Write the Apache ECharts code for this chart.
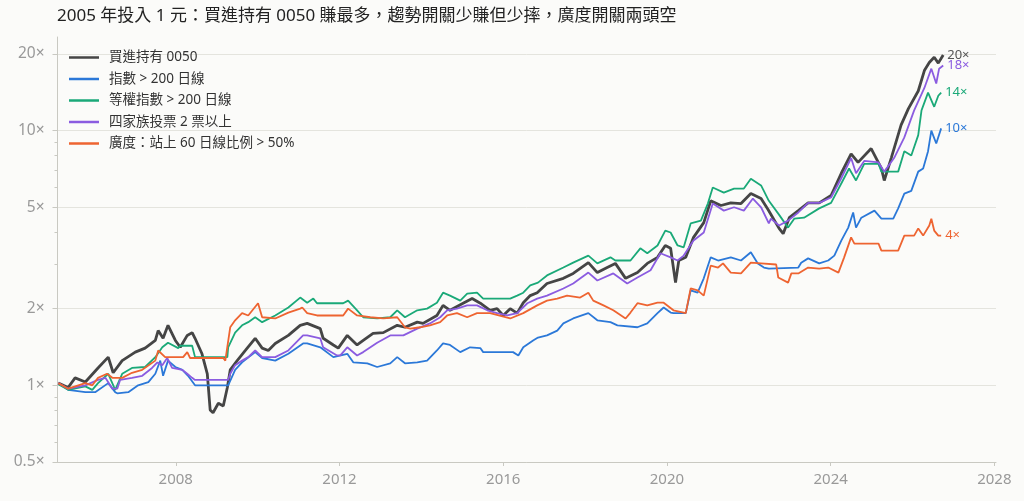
<!DOCTYPE html>
<html lang="zh-Hant">
<head>
<meta charset="utf-8">
<title>2005 年投入 1 元</title>
<script src="https://cdn.jsdelivr.net/npm/echarts@6/dist/echarts.min.js"></script>
<style>
  html, body { margin: 0; padding: 0; background: #fbfbf9; }
  #chart { width: 1024px; height: 501px; }
</style>
</head>
<body>
<div id="chart"></div>
<script>
// 每條線：[年份(小數), 累積倍數]，從圖上讀出的估計值
const hold0050 = [
  [2005.13,1.02],[2005.37,0.98],[2005.54,1.07],[2005.79,1.03],[2006.10,1.17],[2006.35,1.29],[2006.47,1.12],
  [2006.69,1.25],[2007.01,1.35],[2007.25,1.40],[2007.50,1.50],[2007.57,1.64],[2007.69,1.53],[2007.81,1.72],
  [2007.99,1.50],[2008.11,1.41],[2008.28,1.57],[2008.40,1.61],[2008.47,1.53],[2008.64,1.33],[2008.77,1.11],
  [2008.84,0.80],[2008.91,0.78],[2009.04,0.85],[2009.16,0.83],[2009.26,0.98],[2009.33,1.15],[2009.50,1.25],
  [2009.70,1.37],[2009.94,1.53],[2010.11,1.40],[2010.26,1.37],[2010.43,1.46],[2010.75,1.57],[2011.04,1.72],
  [2011.21,1.75],[2011.53,1.67],[2011.60,1.53],[2011.85,1.44],[2011.97,1.40],[2012.19,1.57],[2012.43,1.44],
  [2012.58,1.50],[2012.82,1.60],[2013.07,1.61],[2013.41,1.72],[2013.60,1.69],[2013.90,1.77],[2014.04,1.75],
  [2014.38,1.88],[2014.53,2.06],[2014.70,1.97],[2015.02,2.10],[2015.24,2.19],[2015.44,2.10],[2015.68,1.97],
  [2015.85,2.00],[2016.00,1.88],[2016.17,2.00],[2016.34,1.92],[2016.49,2.11],[2016.66,2.25],[2016.83,2.31],
  [2017.07,2.51],[2017.47,2.63],[2017.71,2.75],[2018.08,3.03],[2018.30,2.77],[2018.54,2.90],[2018.74,3.01],
  [2018.99,2.63],[2019.28,2.77],[2019.52,3.01],[2019.77,3.18],[2019.96,3.54],[2020.09,3.45],[2020.21,2.53],
  [2020.29,3.09],[2020.46,3.18],[2020.65,3.81],[2020.90,4.35],[2021.07,5.30],[2021.32,5.08],[2021.56,5.20],
  [2021.81,5.17],[2022.05,5.66],[2022.30,5.41],[2022.47,4.90],[2022.74,4.13],[2022.84,3.94],[2022.99,4.55],
  [2023.21,4.85],[2023.45,5.20],[2023.72,5.20],[2024.01,5.56],[2024.26,6.80],[2024.50,8.10],[2024.67,7.50],
  [2024.99,8.50],[2025.24,7.10],[2025.31,6.37],[2025.48,7.80],[2025.72,10.5],[2025.90,12.2],[2026.14,14.3],
  [2026.29,17.2],[2026.41,18.5],[2026.53,19.4],[2026.63,18.4],[2026.75,19.8]
];
const index200 = [
  [2005.13,1.02],[2005.37,0.96],[2005.79,0.94],[2006.03,0.94],[2006.35,1.02],[2006.52,0.94],[2006.57,0.93],
  [2006.84,0.94],[2007.08,1.00],[2007.33,1.03],[2007.50,1.11],[2007.62,1.25],[2007.69,1.09],[2007.81,1.25],
  [2007.99,1.18],[2008.16,1.15],[2008.30,1.09],[2008.47,1.00],[2009.28,1.00],[2009.45,1.15],[2009.62,1.23],
  [2009.94,1.35],[2010.11,1.28],[2010.43,1.25],[2010.75,1.33],[2011.11,1.46],[2011.21,1.46],[2011.53,1.41],
  [2011.85,1.29],[2012.19,1.33],[2012.34,1.23],[2012.68,1.22],[2012.92,1.18],[2013.24,1.22],[2013.41,1.29],
  [2013.60,1.22],[2013.90,1.23],[2014.14,1.25],[2014.38,1.37],[2014.53,1.46],[2014.70,1.44],[2014.95,1.35],
  [2015.19,1.41],[2015.44,1.40],[2015.51,1.35],[2016.24,1.35],[2016.37,1.31],[2016.49,1.41],[2016.73,1.50],
  [2016.85,1.54],[2017.07,1.57],[2017.32,1.64],[2017.47,1.75],[2017.71,1.83],[2018.08,1.92],[2018.30,1.80],
  [2018.62,1.77],[2018.79,1.72],[2019.28,1.69],[2019.52,1.75],[2019.77,1.92],[2019.92,2.02],[2020.09,1.93],
  [2020.16,1.92],[2020.46,1.92],[2020.58,2.36],[2020.75,2.31],[2020.90,2.63],[2021.07,3.18],[2021.25,3.09],
  [2021.56,3.18],[2021.81,3.09],[2022.05,3.33],[2022.22,3.01],[2022.37,2.90],[2022.49,2.87],[2023.21,2.90],
  [2023.28,3.03],[2023.45,3.15],[2023.72,3.01],[2023.94,3.09],[2024.09,3.23],[2024.26,3.70],[2024.43,4.16],
  [2024.55,4.77],[2024.62,4.16],[2024.75,4.55],[2025.07,4.85],[2025.24,4.51],[2025.53,4.51],[2025.65,4.95],
  [2025.80,5.66],[2025.97,5.80],[2026.14,6.90],[2026.26,7.10],[2026.38,8.30],[2026.46,10.0],[2026.58,8.90],
  [2026.70,10.2]
];
const equal200 = [
  [2005.13,1.01],[2005.37,0.96],[2005.79,0.99],[2005.96,0.96],[2006.10,1.02],[2006.35,1.11],[2006.52,0.96],
  [2006.69,1.11],[2006.93,1.17],[2007.25,1.18],[2007.50,1.29],[2007.67,1.41],[2007.81,1.47],[2008.06,1.40],
  [2008.11,1.43],[2008.40,1.43],[2008.47,1.29],[2009.26,1.29],[2009.28,1.41],[2009.45,1.61],[2009.62,1.72],
  [2009.77,1.77],[2009.94,1.85],[2010.11,1.77],[2010.43,1.88],[2010.75,2.02],[2011.04,2.21],[2011.21,2.11],
  [2011.36,2.19],[2011.45,2.10],[2012.09,2.10],[2012.21,2.15],[2012.43,1.97],[2012.58,1.85],[2012.92,1.83],
  [2013.24,1.85],[2013.41,1.97],[2013.60,1.85],[2013.90,1.97],[2014.14,2.00],[2014.38,2.11],[2014.53,2.31],
  [2014.70,2.25],[2014.95,2.15],[2015.12,2.29],[2015.36,2.31],[2015.51,2.19],[2016.17,2.19],[2016.34,2.25],
  [2016.49,2.31],[2016.66,2.47],[2016.85,2.53],[2017.07,2.70],[2017.47,2.90],[2017.71,3.03],[2018.08,3.23],
  [2018.30,3.01],[2018.62,3.18],[2018.74,3.09],[2019.11,3.09],[2019.35,3.45],[2019.52,3.30],[2019.77,3.54],
  [2019.96,4.05],[2020.09,3.98],[2020.26,3.54],[2020.41,3.48],[2020.58,4.32],[2020.83,4.43],[2021.00,5.17],
  [2021.12,5.98],[2021.39,5.71],[2021.64,5.92],[2021.88,5.92],[2022.05,6.47],[2022.30,6.09],[2022.49,5.30],
  [2022.72,4.72],[2022.96,4.16],[2023.11,4.51],[2023.35,4.55],[2023.72,4.95],[2024.01,5.20],[2024.26,6.20],
  [2024.45,7.10],[2024.62,6.37],[2024.82,7.40],[2025.17,7.40],[2025.24,6.90],[2025.65,6.90],[2025.80,8.30],
  [2025.97,7.98],[2026.14,9.60],[2026.22,12.0],[2026.38,14.1],[2026.53,12.4],[2026.63,13.7],[2026.70,14.1]
];
const family2 = [
  [2005.13,1.02],[2005.37,0.97],[2005.79,1.00],[2006.10,1.05],[2006.28,1.07],[2006.45,0.97],[2006.57,0.97],
  [2006.64,1.05],[2006.93,1.07],[2007.18,1.09],[2007.42,1.17],[2007.55,1.23],[2007.67,1.20],[2007.79,1.28],
  [2007.91,1.17],[2008.16,1.15],[2008.28,1.11],[2008.40,1.07],[2008.47,1.05],[2009.28,1.05],[2009.33,1.11],
  [2009.45,1.20],[2009.62,1.25],[2009.77,1.29],[2009.94,1.37],[2010.11,1.29],[2010.43,1.29],[2010.75,1.37],
  [2011.11,1.57],[2011.21,1.57],[2011.53,1.53],[2011.60,1.41],[2011.94,1.31],[2012.02,1.31],[2012.19,1.41],
  [2012.43,1.31],[2012.58,1.35],[2012.92,1.47],[2013.24,1.57],[2013.56,1.57],[2013.90,1.67],[2014.21,1.75],
  [2014.46,1.85],[2014.63,1.97],[2014.87,2.00],[2015.12,2.06],[2015.36,2.06],[2015.61,1.97],[2015.85,1.92],
  [2016.10,1.88],[2016.34,1.92],[2016.59,2.10],[2016.83,2.19],[2017.07,2.25],[2017.47,2.40],[2017.71,2.51],
  [2018.08,2.77],[2018.30,2.58],[2018.69,2.75],[2019.03,2.51],[2019.28,2.65],[2019.60,2.83],[2019.84,3.30],
  [2020.09,3.18],[2020.26,3.09],[2020.41,3.23],[2020.65,3.70],[2020.90,3.98],[2021.12,5.17],[2021.39,4.85],
  [2021.64,5.00],[2021.88,4.85],[2022.10,5.41],[2022.30,5.00],[2022.49,4.32],[2022.54,4.51],[2022.74,4.24],
  [2022.96,4.43],[2023.21,4.77],[2023.45,5.20],[2023.72,5.20],[2024.01,5.46],[2024.26,6.50],[2024.50,7.80],
  [2024.62,6.80],[2024.82,7.60],[2025.17,7.50],[2025.31,6.90],[2025.55,7.80],[2025.80,9.40],[2026.04,12.0],
  [2026.29,14.7],[2026.46,17.5],[2026.58,15.3],[2026.65,17.5],[2026.75,18.0]
];
const breadth60 = [
  [2005.13,1.02],[2005.37,0.97],[2005.79,1.02],[2005.96,1.00],[2006.10,1.07],[2006.32,1.11],[2006.45,1.07],
  [2006.69,1.07],[2006.93,1.12],[2007.18,1.15],[2007.50,1.25],[2007.57,1.37],[2007.74,1.29],[2008.18,1.29],
  [2008.28,1.35],[2008.35,1.28],[2009.16,1.28],[2009.21,1.25],[2009.33,1.69],[2009.45,1.80],[2009.62,1.92],
  [2009.77,1.88],[2010.01,2.10],[2010.11,1.85],[2010.43,1.83],[2010.75,1.93],[2011.04,2.00],[2011.09,2.02],
  [2011.21,1.92],[2011.45,1.88],[2012.09,1.88],[2012.21,2.00],[2012.43,1.88],[2012.75,1.85],[2013.07,1.83],
  [2013.41,1.85],[2013.60,1.69],[2013.73,1.67],[2013.97,1.69],[2014.21,1.72],[2014.46,1.77],[2014.63,1.88],
  [2014.87,1.92],[2015.12,1.85],[2015.36,1.92],[2015.68,1.92],[2016.17,1.83],[2016.49,1.92],[2016.83,2.06],
  [2017.07,2.15],[2017.32,2.19],[2017.56,2.25],[2017.88,2.21],[2018.08,2.31],[2018.20,2.15],[2018.45,2.06],
  [2018.69,1.97],[2018.99,1.83],[2019.11,1.93],[2019.28,2.10],[2019.52,2.06],[2019.77,2.11],[2019.92,2.11],
  [2020.16,1.97],[2020.46,1.92],[2020.58,2.40],[2020.75,2.36],[2020.90,2.25],[2021.07,2.95],[2021.25,2.90],
  [2021.37,3.01],[2021.56,2.77],[2021.81,2.75],[2022.05,3.03],[2022.30,3.01],[2022.67,2.98],[2022.72,2.65],
  [2022.96,2.53],[2023.04,2.75],[2023.21,2.75],[2023.45,2.90],[2023.72,2.87],[2023.94,2.90],[2024.19,2.77],
  [2024.33,3.18],[2024.50,3.81],[2024.58,3.60],[2025.17,3.60],[2025.24,3.38],[2025.65,3.38],[2025.72,3.60],
  [2025.80,3.87],[2026.04,3.87],[2026.14,4.13],[2026.26,3.87],[2026.41,4.24],[2026.46,4.51],[2026.53,4.05],
  [2026.63,3.87],[2026.70,3.87]
];

const seriesNames = ['買進持有 0050', '指數 > 200 日線', '等權指數 > 200 日線', '四家族投票 2 票以上', '廣度：站上 60 日線比例 > 50%'];
const endLabels = ['20×', '10×', '14×', '18×', '4×'];
const yTicks = [0.5, 1, 2, 5, 10, 20];
const yMinorTicks = [0.6, 0.7, 0.8, 0.9, 3, 4, 6, 7, 8, 9];
const xTicks = [2008, 2012, 2016, 2020, 2024, 2028];

const colors = ['#454545', '#2b78d8', '#1aa978', '#8b5ce0', '#ee6431'];
const font = '"Noto Sans", "Noto Sans CJK TC", sans-serif';

const chart = echarts.init(document.getElementById('chart'));

const allData = [hold0050, index200, equal200, family2, breadth60];
const series = allData.map((d, i) => ({
  name: seriesNames[i],
  type: 'line',
  data: d,
  symbol: 'none',
  lineStyle: { width: i === 0 ? 2.8 : 1.8, color: colors[i] },
  itemStyle: { color: colors[i] },
  z: i === 0 ? 1 : 2,
  endLabel: {
    show: true,
    formatter: endLabels[i],
    color: i === 0 ? '#555' : colors[i],
    fontSize: 13,
    fontFamily: font,
    distance: 4
  }
}));

const option = {
  backgroundColor: '#fbfbf9',
  animation: false,
  textStyle: { fontFamily: font },
  title: {
    text: '2005 年投入 1 元：買進持有 0050 賺最多，趨勢開關少賺但少摔，廣度開關兩頭空',
    left: 57, top: 8, padding: 0,
    textStyle: { fontSize: 17, fontWeight: 'normal', color: '#222', fontFamily: font }
  },
  legend: {
    orient: 'vertical',
    left: 69, top: 48.5,
    padding: 0,
    icon: 'rect',
    itemWidth: 30, itemHeight: 2.5, itemGap: 3.5,
    textStyle: { fontSize: 13.5, color: '#333', fontFamily: font, padding: [0, 0, 0, 5], lineHeight: 18 },
    data: seriesNames
  },
  grid: { left: 57.5, right: 28, top: 37, bottom: 39 },
  xAxis: {
    type: 'value',
    min: 2005.11, max: 2028.04,
    axisLine: { lineStyle: { color: '#c9c9c2' } },
    axisTick: { customValues: xTicks, length: 4, lineStyle: { color: '#c9c9c2' } },
    axisLabel: { customValues: xTicks, formatter: v => String(v), color: '#999', fontSize: 15, margin: 10 },
    splitLine: { show: false }
  },
  yAxis: [{
    type: 'log',
    logBase: 10,
    min: 0.5, max: 23.3,
    axisLine: { show: true, lineStyle: { color: '#c9c9c2' } },
    axisTick: { show: true, customValues: yTicks, length: 5, lineStyle: { color: '#c9c9c2' } },
    axisLabel: { customValues: yTicks, formatter: v => parseFloat(v.toPrecision(3)) + '×', color: '#999', fontSize: 15.5, margin: 13 },
    splitLine: { show: true, lineStyle: { color: '#e4e4de', width: 1 } }
  }, {
    type: 'log',
    logBase: 10,
    min: 0.5, max: 23.3,
    position: 'left',
    axisLine: { show: false },
    axisTick: { show: true, customValues: yMinorTicks, length: 3, lineStyle: { color: '#c9c9c2' } },
    axisLabel: { show: false },
    splitLine: { show: false }
  }],
  series: series
};

chart.setOption(option);
</script>
</body>
</html>
